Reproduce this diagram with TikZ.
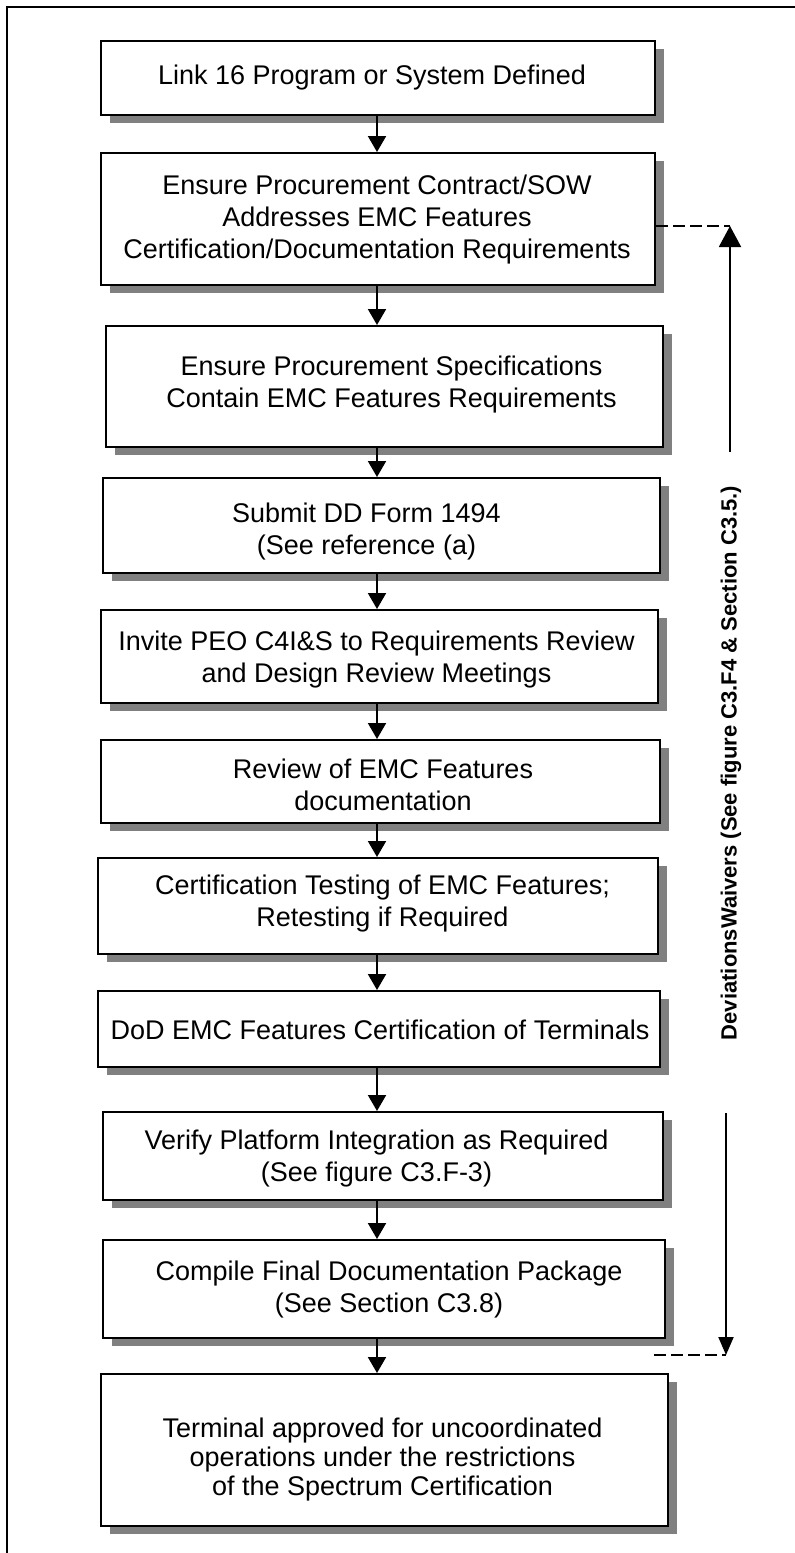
\documentclass[tikz,border=0pt]{standalone}
\usepackage{fontspec}
\setmainfont{Liberation Sans}
\usetikzlibrary{arrows.meta,shadows}
\definecolor{shadowgray}{RGB}{128,128,128}
\begin{document}
\begin{tikzpicture}[x=0.5pt,y=-0.5pt,
  box/.style={draw=black, line width=1pt, fill=white, inner sep=0pt,
    drop shadow={shadow xshift=4.5pt, shadow yshift=-4pt, fill=shadowgray, opacity=1}},
  lbl/.style={align=center, font=\fontsize{13.5}{16}\selectfont, inner sep=0pt},
  flow/.style={line width=1pt, -{Triangle[length=8pt,width=9pt]}},
  dashline/.style={line width=1pt, dash pattern=on 6pt off 2.5pt},
  sidearrow/.style={line width=1pt}
]
\useasboundingbox (0,0) rectangle (795,1553);
% frame
\draw[line width=1.25pt] (7,1553) -- (7,7) -- (795,7);

% boxes
\node[box, minimum width=277pt, minimum height=37pt] (b1) at (378,78) {};
\node[box, minimum width=277pt, minimum height=66pt] (b2) at (378,219) {};
\node[box, minimum width=278.5pt, minimum height=60.5pt] (b3) at (384.5,386.5) {};
\node[box, minimum width=278.5pt, minimum height=47.5pt] (b4) at (381.5,525.5) {};
\node[box, minimum width=278.5pt, minimum height=46.5pt] (b5) at (379.5,656.5) {};
\node[box, minimum width=279.5pt, minimum height=41.5pt] (b6) at (380.5,781.5) {};
\node[box, minimum width=280pt, minimum height=48pt] (b7) at (378,906) {};
\node[box, minimum width=281pt, minimum height=38pt] (b8) at (379,1029) {};
\node[box, minimum width=280pt, minimum height=44pt] (b9) at (383,1156) {};
\node[box, minimum width=281pt, minimum height=49pt] (b10) at (384,1289) {};
\node[box, minimum width=283.5pt, minimum height=76pt] (b11) at (384.5,1450) {};

% texts
\node[lbl] (t1) at ([shift={(-6,0)}]b1.center) {Link 16 Program or System Defined};
\node[lbl] (t2) at ([shift={(-1,1)}]b2.center) {Ensure Procurement Contract/SOW\\Addresses EMC Features\\Certification/Documentation Requirements};
\node[lbl] (t3) at ([shift={(7,-2)}]b3.center) {Ensure Procurement Specifications\\Contain EMC Features Requirements};
\node[lbl] (t4) at ([shift={(-15,6)}]b4.center) {Submit DD Form 1494\\(See reference (a)};
\node[lbl] (t5) at ([shift={(-3,3)}]b5.center) {Invite PEO C4I\&S to Requirements Review\\and Design Review Meetings};
\node[lbl] (t6) at ([shift={(2.5,3)}]b6.center) {Review of EMC Features\\documentation};
\node[lbl] (t7) at ([shift={(4.5,-2)}]b7.center) {Certification Testing of EMC Features;\\Retesting if Required};
\node[lbl] (t8) at ([shift={(1,1)}]b8.center) {DoD EMC Features Certification of Terminals};
\node[lbl] (t9) at ([shift={(-6.5,3)}]b9.center) {Verify Platform Integration as Required\\(See figure C3.F-3)};
\node[lbl] (t10) at ([shift={(5,0)}]b10.center) {Compile Final Documentation Package\\(See Section C3.8)};
\node[lbl, font=\fontsize{13.5}{14.5}\selectfont] (t11) at ([shift={(-2,10)}]b11.center) {Terminal approved for uncoordinated\\operations under the restrictions\\of the Spectrum Certification};

% flow arrows
\coordinate (col) at (377,0);
\draw[flow] (b1.south -| col) -- (b2.north -| col);
\draw[flow] (b2.south -| col) -- (b3.north -| col);
\draw[flow] (b3.south -| col) -- (b4.north -| col);
\draw[flow] (b4.south -| col) -- (b5.north -| col);
\draw[flow] (b5.south -| col) -- (b6.north -| col);
\draw[flow] (b6.south -| col) -- (b7.north -| col);
\draw[flow] (b7.south -| col) -- (b8.north -| col);
\draw[flow] (b8.south -| col) -- (b9.north -| col);
\draw[flow] (b9.south -| col) -- (b10.north -| col);
\draw[flow] (b10.south -| col) -- (b11.north -| col);

% deviations / waivers side path
\coordinate (upTip) at (730,226);
\coordinate (upFoot) at (730,452);
\draw[dashline] (b2.east |- upTip) -- (upTip);
\draw[sidearrow, -{Triangle[length=10.5pt,width=11pt]}] (upFoot) -- (upTip);

\node[rotate=90, inner sep=0pt, font=\bfseries\fontsize{11}{13}\selectfont] (dev) at (731,763)
  {DeviationsWaivers (See figure C3.F4 \& Section C3.5.)};

\coordinate (dnTop) at (726,1113);
\coordinate (dnTip) at (726,1355);
\coordinate (dnDash) at (654,1355);
\draw[sidearrow, -{Triangle[length=9pt,width=7.5pt]}] (dnTop) -- (dnTip);
\draw[dashline] (dnDash) -- (dnTip);
\end{tikzpicture}
\end{document}
